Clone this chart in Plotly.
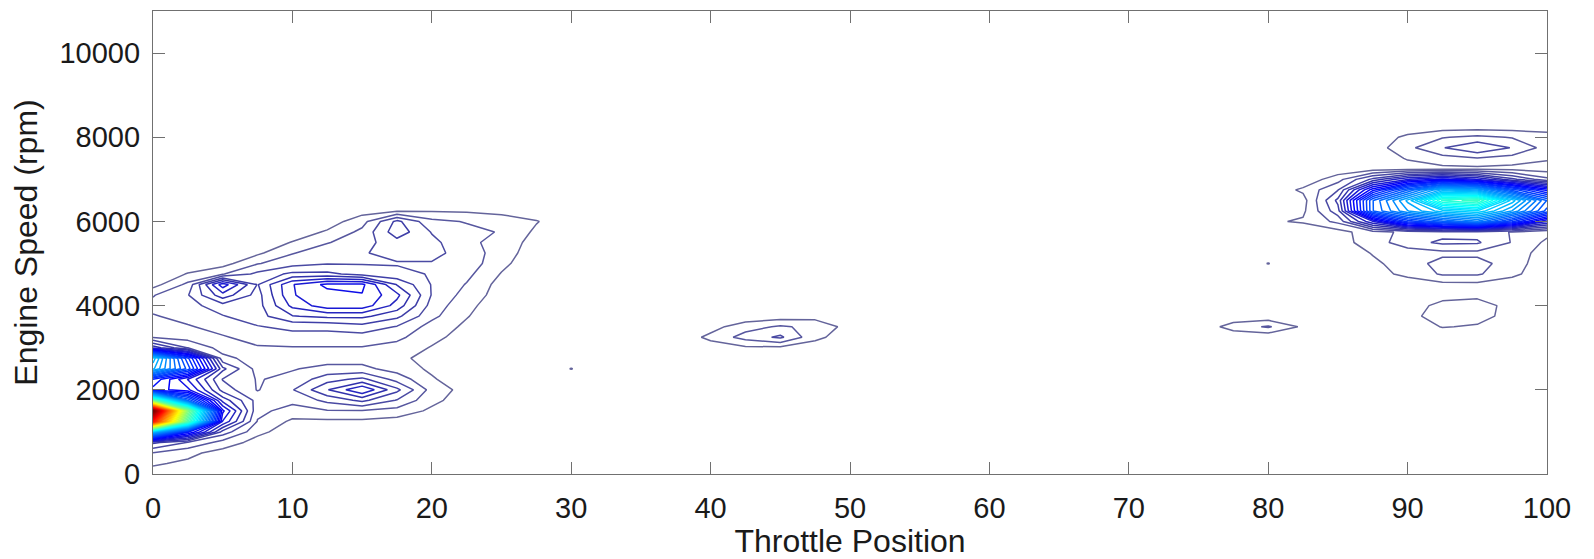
import numpy as np
import plotly.graph_objects as go

# ---------------- grid axes ----------------
throttle_grid = np.arange(0, 100.001, 2.5)     # Throttle Position
rpm_grid = np.arange(0, 11000.001, 250)         # Engine Speed (rpm)

# ---------------- data (density values) ----------------
# Left cluster: throttle 0..30, rpm 0..6500
left_throttle = [0, 2.5, 5, 7.5, 10, 12.5, 15, 17.5, 20, 22.5, 25, 27.5, 30]
left_rpm = [0, 250, 500, 750, 1000, 1250, 1500, 1750, 2000, 2250, 2500, 2750, 3000,
            3250, 3500, 3750, 4000, 4250, 4500, 4750, 5000, 5250, 5500, 5750, 6000,
            6250, 6500]
left_density = [
    [0.5, 0.3, 0, 0, 0, 0, 0, 0, 0, 0, 0, 0, 0],
    [1.3, 0.8, 0.2, 0, 0, 0, 0, 0, 0, 0, 0, 0, 0],
    [2.5, 1.5, 0.5, 0, 0, 0, 0, 0, 0, 0, 0, 0, 0],
    [6, 4, 2, 0.5, 0, 0, 0, 0, 0, 0, 0, 0, 0],
    [30, 15, 5, 1.5, 0.3, 0, 0, 0, 0, 0, 0, 0, 0],
    [85, 45, 10, 2.5, 0.8, 0.8, 0.8, 0.5, 0, 0, 0, 0, 0],
    [100, 50, 12, 3, 2, 2.5, 2.5, 2, 0.8, 0, 0, 0, 0],
    [45, 22, 8, 3.5, 3, 4.5, 6, 4, 1.5, 0.3, 0, 0, 0],
    [14, 12, 5, 2.5, 4, 7, 10, 6, 2, 0.5, 0, 0, 0],
    [16, 10, 4, 2.5, 3, 5, 6, 3.5, 1.3, 0, 0, 0, 0],
    [30, 20, 6, 2, 2.5, 3, 3, 2, 0.8, 0, 0, 0, 1.15],
    [32, 18, 3, 2, 2, 2, 2, 1.5, 0.5, 0, 0, 0, 0],
    [8, 4, 2, 2.5, 2.5, 2.5, 2.5, 2, 1, 0.3, 0, 0, 0],
    [2.5, 2, 2.5, 3, 3.5, 3.5, 3.5, 3, 1.5, 0.5, 0, 0, 0],
    [2, 2.5, 3, 4, 4.5, 4.5, 5, 4, 2, 0.8, 0, 0, 0],
    [2.5, 3, 4, 5, 7, 7.5, 7.5, 6, 3, 1.2, 0, 0, 0],
    [3, 3.5, 5, 5, 9, 11, 11, 8, 3.5, 1.5, 0.2, 0, 0],
    [2.5, 4, 8, 5, 10, 11, 11.5, 9, 4, 2, 0.4, 0, 0],
    [0.5, 3, 11, 5.5, 10, 12, 12, 7, 4, 2.5, 0.5, 0, 0],
    [0, 1.2, 2.5, 4.5, 6, 6, 5, 4.5, 4, 3, 1, 0, 0],
    [0, 0.2, 0.5, 2.5, 3.5, 4, 4, 4, 4, 3.5, 1.5, 0, 0],
    [0, 0, 0, 0.8, 2.5, 3.5, 4, 4.5, 4.5, 3.5, 1.8, 0.3, 0],
    [0, 0, 0, 0, 1.2, 2.5, 3.5, 5, 4.5, 3, 2, 0.5, 0],
    [0, 0, 0, 0, 0.2, 1.3, 3, 6.5, 4, 3, 2.5, 0.8, 0],
    [0, 0, 0, 0, 0, 0.3, 2, 6, 3, 2.5, 2, 1.2, 0],
    [0, 0, 0, 0, 0, 0, 0.5, 1, 1, 0.9, 0.6, 0.2, 0],
    [0, 0, 0, 0, 0, 0, 0, 0, 0, 0, 0, 0, 0],
]

# Middle blob: throttle 37.5..50, rpm 2750..4000
mid_throttle = [37.5, 40, 42.5, 45, 47.5, 50]
mid_rpm = [2750, 3000, 3250, 3500, 3750, 4000]
mid_density = [
    [0, 0, 0, 0, 0, 0],
    [0, 0.3, 0.8, 0.8, 0.3, 0],
    [0, 1.5, 3.2, 4.4, 1.5, 0.2],
    [0, 0.5, 2, 2.8, 2.2, 0.5],
    [0, 0, 0, 0.3, 0.5, 0],
    [0, 0, 0, 0, 0, 0],
]

# Right cluster: throttle 77.5..100, rpm 3250..8500
right_throttle = [77.5, 80, 82.5, 85, 87.5, 90, 92.5, 95, 97.5, 100]
right_rpm = [3250, 3500, 3750, 4000, 4250, 4500, 4750, 5000, 5250, 5500, 5750,
             6000, 6250, 6500, 6750, 7000, 7250, 7500, 7750, 8000, 8250, 8500]
right_density = [
    [0, 0, 0, 0, 0, 0, 0, 0, 0, 0],
    [1.8, 2.8, 0.8, 0, 0, 0, 1.2, 0.9, 0, 0],
    [0, 0, 0, 0, 0, 0.5, 2, 1.8, 0.4, 0],
    [0, 0, 0, 0, 0, 0.3, 1.6, 2, 0.4, 0],
    [0, 0, 0, 0, 0, 0, 0.5, 0.6, 0, 0],
    [0, 0, 0, 0, 0, 0.2, 0.6, 0.7, 0.2, 0],
    [0, 0, 0, 0, 0.5, 1.5, 2.8, 2.8, 1.5, 0],
    [0, 1.15, 0, 0, 0.8, 1.8, 3.2, 3.2, 1.8, 0.2],
    [0, 0, 0, 0, 1.2, 1.8, 2.2, 2.2, 1.8, 0.5],
    [0, 0, 0, 0.5, 1.8, 3.5, 4.4, 4.3, 2.5, 0.8],
    [0, 0, 0, 0.5, 2, 3, 3.5, 3.5, 2.5, 1.5],
    [0, 0.85, 1.3, 3, 10, 18, 22, 25, 18, 10],
    [0, 0, 0.8, 5, 22, 28, 32, 34, 28, 20],
    [0, 0, 0.5, 6, 22, 30, 42, 44, 32, 22],
    [0, 0, 1.4, 4, 14, 22, 30, 28, 20, 14],
    [0, 0, 0, 2, 6, 10, 12, 10, 6, 3],
    [0, 0, 0, 0, 0.4, 0.6, 0.7, 0.7, 0.6, 0.4],
    [0, 0, 0, 0, 0.3, 1.2, 2, 2.5, 2, 1.3],
    [0, 0, 0, 0, 0.3, 2.2, 4, 5.5, 4, 2],
    [0, 0, 0, 0, 0, 1.5, 2.5, 3, 2.5, 1.8],
    [0, 0, 0, 0, 0, 0, 0.3, 0.3, 0.3, 0.3],
    [0, 0, 0, 0, 0, 0, 0, 0, 0, 0],
]

x_ticks = [0, 10, 20, 30, 40, 50, 60, 70, 80, 90, 100]
y_ticks = [0, 2000, 4000, 6000, 8000, 10000]
y_tick_labels = ["0", "2000", "4000", "6000", "8000", "10000"]

# ---------------- build the full grid ----------------
z = np.zeros((len(rpm_grid), len(throttle_grid)))


def place(xs, ys, block):
    arr = np.array(block, dtype=float)
    i0 = int(np.argmin(np.abs(throttle_grid - xs[0])))
    j0 = int(np.argmin(np.abs(rpm_grid - ys[0])))
    sub = z[j0:j0 + arr.shape[0], i0:i0 + arr.shape[1]]
    z[j0:j0 + arr.shape[0], i0:i0 + arr.shape[1]] = np.maximum(sub, arr)


place(left_throttle, left_rpm, left_density)
place(mid_throttle, mid_rpm, mid_density)
place(right_throttle, right_rpm, right_density)

jet = [
    [0.0, "rgb(100,100,155)"],
    [0.06, "rgb(50,50,170)"],
    [0.125, "rgb(0,0,255)"],
    [0.375, "rgb(0,255,255)"],
    [0.625, "rgb(255,255,0)"],
    [0.875, "rgb(255,0,0)"],
    [1.0, "rgb(128,0,0)"],
]

fig = go.Figure(
    go.Contour(
        x=throttle_grid,
        y=rpm_grid,
        z=z,
        autocontour=False,
        contours=dict(start=1.1, end=100, size=1.5, coloring="lines"),
        line=dict(width=1.5, smoothing=0),
        colorscale=jet,
        zmin=0,
        zmax=100,
        showscale=False,
        hoverinfo="skip",
    )
)

font_family = "Liberation Sans, Arial, Helvetica, sans-serif"
axis_common = dict(
    showline=True,
    linecolor="#707070",
    linewidth=1.3,
    mirror="ticks",
    ticks="inside",
    ticklen=12,
    tickwidth=1.2,
    tickcolor="#707070",
    showgrid=False,
    zeroline=False,
    automargin=False,
    tickfont=dict(family=font_family, size=29, color="#1a1a1a"),
)

# The page body adds an 8px offset; the figure size and margins compensate for it.
fig.update_layout(
    width=1586,
    height=551,
    margin=dict(l=145, r=47, t=3, b=85),
    paper_bgcolor="white",
    plot_bgcolor="white",
    showlegend=False,
    xaxis=dict(
        range=[0, 100],
        tickvals=x_ticks,
        ticklabelstandoff=8,
        title=dict(text="Throttle Position", standoff=9,
                   font=dict(family=font_family, size=32, color="#1a1a1a")),
        **axis_common,
    ),
    yaxis=dict(
        range=[0, 11000],
        tickvals=y_ticks,
        ticktext=y_tick_labels,
        ticklabelstandoff=6,
        title=dict(text="Engine Speed (rpm)", standoff=26,
                   font=dict(family=font_family, size=32, color="#1a1a1a")),
        **axis_common,
    ),
)

fig.write_html("out.html")
